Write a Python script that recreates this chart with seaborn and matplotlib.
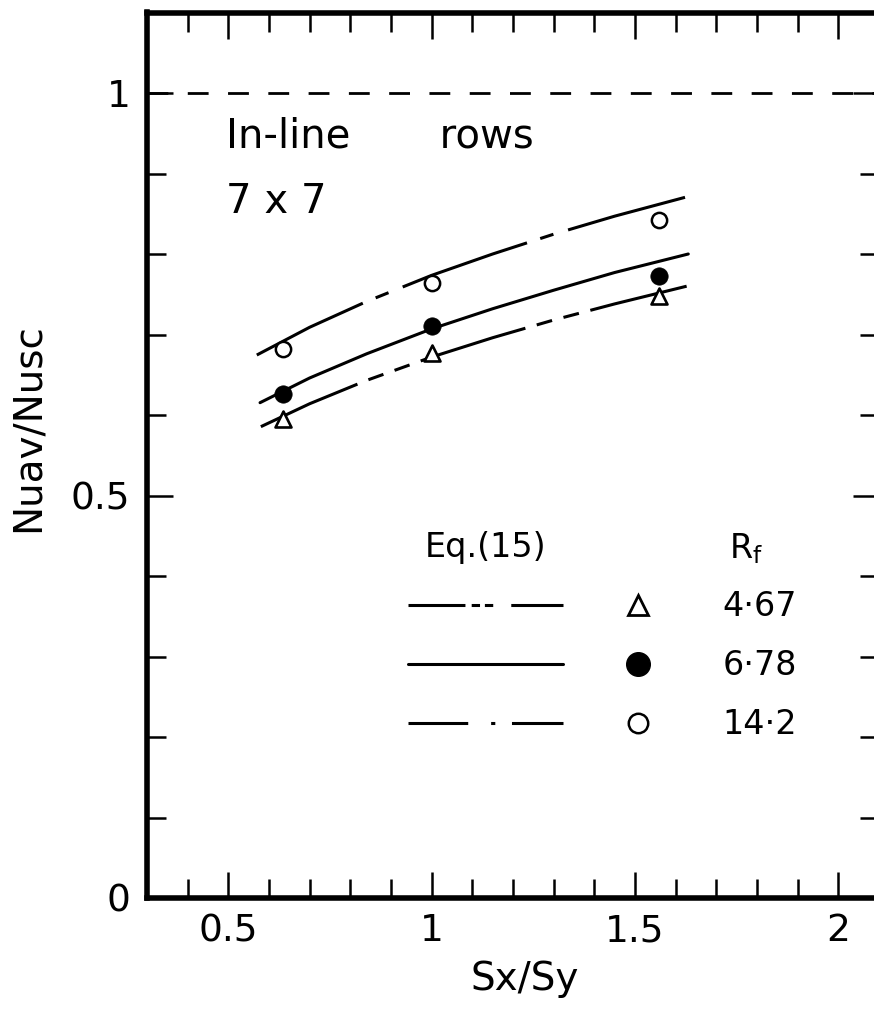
import matplotlib
matplotlib.use("Agg")
import matplotlib.pyplot as plt
from matplotlib.lines import Line2D
from matplotlib.ticker import FixedLocator, FixedFormatter, MultipleLocator
import pandas as pd
import seaborn as sns

# Measured average Nusselt number ratio, 7 x 7 in-line tube bank
sx_sy = [0.635, 1.0, 1.56]
nu_rf467 = [0.595, 0.677, 0.748]
nu_rf678 = [0.626, 0.710, 0.773]
nu_rf142 = [0.682, 0.764, 0.842]

# Eq.(15) correlation curves
eq_x_467 = [0.580, 0.70, 0.84, 1.00, 1.15, 1.30, 1.45, 1.627]
eq_y_467 = [0.5855, 0.614, 0.643, 0.672, 0.696, 0.718, 0.738, 0.760]
eq_x_678 = [0.578, 0.70, 0.84, 1.00, 1.15, 1.30, 1.45, 1.631]
eq_y_678 = [0.6153, 0.646, 0.676, 0.707, 0.732, 0.755, 0.777, 0.800]
eq_x_142 = [0.570, 0.70, 0.84, 1.00, 1.15, 1.30, 1.45, 1.623]
eq_y_142 = [0.6745, 0.709, 0.741, 0.7735, 0.800, 0.8246, 0.847, 0.8704]

rf_labels = ["4·67", "6·78", "14·2"]

x_ticks = [0.5, 1.0, 1.5, 2.0]
x_tick_labels = ["0.5", "1", "1.5", "2"]
y_ticks = [0.0, 0.5, 1.0]
y_tick_labels = ["0", "0.5", "1"]
ref_level = 1.0

sns.set_style("ticks")
plt.rcParams["font.family"] = ["DejaVu Sans"]
plt.rcParams["mathtext.default"] = "regular"
plt.rcParams["lines.scale_dashes"] = False
for key in ("text.color", "axes.labelcolor", "xtick.color", "ytick.color",
            "axes.edgecolor"):
    plt.rcParams[key] = "black"

fig = plt.figure(figsize=(8.74, 10.14), dpi=100)
ax = fig.add_axes([147 / 874, 1 - 898 / 1014, 732 / 874, 885.5 / 1014])

# line styles for the three fin-resistance cases
ls_467 = (3, (79, 8.5, 11.5, 8.5, 11.5, 8.5))
ls_678 = "-"
ls_142 = (10, (95, 10, 10, 11))
lw_curve = 2.2

curves = [
    (eq_x_467, eq_y_467, ls_467),
    (eq_x_678, eq_y_678, ls_678),
    (eq_x_142, eq_y_142, ls_142),
]
for cx, cy, ls in curves:
    sns.lineplot(x=cx, y=cy, ax=ax, color="black", linewidth=lw_curve,
                 linestyle=ls, sort=False, zorder=2)

ax.axhline(ref_level, color="black", linewidth=2.0, linestyle=(0, (15, 14)), zorder=1)

pts = pd.DataFrame({"x": sx_sy * 3,
                    "y": nu_rf467 + nu_rf678 + nu_rf142,
                    "rf": [rf_labels[0]] * 3 + [rf_labels[1]] * 3 + [rf_labels[2]] * 3})
sns.scatterplot(data=pts[pts.rf == rf_labels[0]], x="x", y="y", ax=ax, marker="^",
                s=11.5 ** 2, facecolor="white", edgecolor="black", linewidth=1.9,
                zorder=3, legend=False)
sns.scatterplot(data=pts[pts.rf == rf_labels[1]], x="x", y="y", ax=ax, marker="o",
                s=12.5 ** 2, facecolor="black", edgecolor="black", linewidth=0.5,
                zorder=3, legend=False)
sns.scatterplot(data=pts[pts.rf == rf_labels[2]], x="x", y="y", ax=ax, marker="o",
                s=11 ** 2, facecolor="white", edgecolor="black", linewidth=1.8,
                zorder=3, legend=False)

ax.set_xlim(0.3, 2.1)
ax.set_ylim(0.0, 1.1)

ax.xaxis.set_major_locator(FixedLocator(x_ticks))
ax.xaxis.set_major_formatter(FixedFormatter(x_tick_labels))
ax.xaxis.set_minor_locator(MultipleLocator(0.1))
ax.yaxis.set_major_locator(FixedLocator(y_ticks))
ax.yaxis.set_major_formatter(FixedFormatter(y_tick_labels))
ax.yaxis.set_minor_locator(MultipleLocator(0.1))

ax.tick_params(which="both", direction="in", top=True, right=True,
               labeltop=False, labelright=False, colors="black", width=1.8)
ax.tick_params(which="major", length=19, labelsize=27)
ax.tick_params(axis="x", which="major", pad=11)
ax.tick_params(axis="y", which="major", pad=12)
ax.tick_params(which="minor", length=13.5)

for sp in ax.spines.values():
    sp.set_linewidth(4.0)
    sp.set_color("black")

ax.set_xlabel("Sx/Sy", fontsize=28)
ax.set_ylabel("Nuav/Nusc", fontsize=28)
ax.xaxis.set_label_coords(0.516, -0.070)
ax.yaxis.set_label_coords(-0.137, 0.531)

ax.text(0.108, 0.848, "In-line       rows", transform=ax.transAxes, fontsize=29,
        ha="left", va="baseline")
ax.text(0.108, 0.7736, "7 x 7", transform=ax.transAxes, fontsize=29,
        ha="left", va="baseline")

# key: correlation line styles and symbols
fs_key = 24
key_top = 0.414
line_handles = [
    Line2D([], [], color="black", linewidth=2.2, linestyle=(0, (41, 4.5, 6, 3.5, 6, 13))),
    Line2D([], [], color="black", linewidth=2.2, linestyle="-"),
    Line2D([], [], color="black", linewidth=2.2, linestyle=(0, (43, 16.5, 3, 12))),
]
leg1 = ax.legend(handles=line_handles, labels=["", "", ""], title="Eq.(15)",
                 loc="upper left", bbox_to_anchor=(0.3566, key_top),
                 frameon=False, fontsize=fs_key, title_fontsize=fs_key,
                 handlelength=111.6 / fs_key, handletextpad=0.0, labelspacing=0.78,
                 borderpad=0.0, borderaxespad=0.0)
ax.add_artist(leg1)

marker_handles = [
    Line2D([], [], linestyle="none", marker="^", markersize=14,
           markerfacecolor="white", markeredgecolor="black", markeredgewidth=2.0),
    Line2D([], [], linestyle="none", marker="o", markersize=17,
           markerfacecolor="black", markeredgecolor="black"),
    Line2D([], [], linestyle="none", marker="o", markersize=14,
           markerfacecolor="white", markeredgecolor="black", markeredgewidth=1.8),
]
leg2 = ax.legend(handles=marker_handles, labels=rf_labels, title=" ",
                 loc="upper left", bbox_to_anchor=(0.6475, key_top),
                 frameon=False, fontsize=fs_key, title_fontsize=fs_key,
                 handlelength=1.0, handletextpad=2.04, labelspacing=0.78,
                 borderpad=0.0, borderaxespad=0.0)

# header over the symbol column
ax.text((746 - 147) / 732, key_top, "R$_{f}$",
        transform=ax.transAxes, fontsize=fs_key, ha="center", va="top")

fig.savefig("out.png", dpi=100, facecolor="white")
